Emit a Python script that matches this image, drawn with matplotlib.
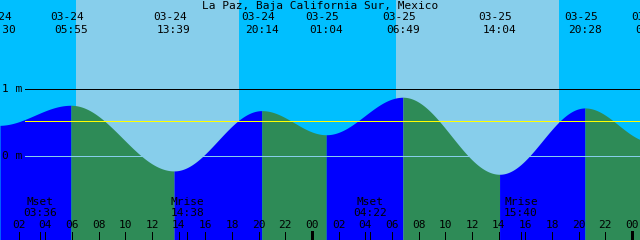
import numpy as np
import matplotlib
matplotlib.use("Agg")
import matplotlib.pyplot as plt

# tide extremes, hours after 03-24 00:00, heights in metres
tide_hours = [0.5, 5.917, 13.65, 20.233, 25.067, 30.817, 38.067, 44.467, 49.5]
tide_m = [0.45, 0.75, -0.23, 0.67, 0.31, 0.87, -0.28, 0.71, 0.20]
tide_dates = ["03-24", "03-24", "03-24", "03-24", "03-25", "03-25", "03-25", "03-25", "03-26"]
tide_times = ["00:30", "05:55", "13:39", "20:14", "01:04", "06:49", "14:04", "20:28", "01:30"]

# sun / moon
sunrise = [6.3, 30.3]
sunset = [18.52, 42.52]
moon_hours = [3.6, 14.633, 28.367, 39.667]
moon_names = ["Mset", "Mrise", "Mset", "Mrise"]
moon_times = ["03:36", "14:38", "04:22", "15:40"]

mean_level = 0.52
hour_ticks = list(range(2, 49, 2))

NIGHT, DAY = "#00BFFF", "#87CEEB"
RISE, FALL = "#0000FF", "#2E8B57"
FONT = "DejaVu Sans Mono"
FS = 8
PX = 0.72  # one pixel in points at 100 dpi

X0, X1 = 0.6, 48.6
Y0, Y1 = -1.261, 2.321

def level(t):
    # cosine shape between consecutive extremes
    t = np.asarray(t, float)
    out = np.empty_like(t)
    for i in range(len(tide_hours) - 1):
        a, b = tide_hours[i], tide_hours[i + 1]
        m = (t >= a) & (t <= b)
        f = (t[m] - a) / (b - a)
        out[m] = tide_m[i] + (tide_m[i + 1] - tide_m[i]) * (1 - np.cos(np.pi * f)) / 2
    return out

fig = plt.figure(figsize=(6.4, 2.4), dpi=100)
ax = fig.add_axes([0, 0, 1, 1])
ax.set_xlim(X0, X1)
ax.set_ylim(Y0, Y1)
ax.axis("off")

# sky: night / day
edges = [X0] + sorted(sunrise + sunset) + [X1]
for i in range(len(edges) - 1):
    ax.axvspan(edges[i], edges[i + 1], color=NIGHT if i % 2 == 0 else DAY,
               lw=0, antialiased=False, zorder=0)

# water: blue while rising, green while falling
for i in range(len(tide_hours) - 1):
    a, b = max(tide_hours[i], X0), min(tide_hours[i + 1], X1)
    if b <= a:
        continue
    t = np.linspace(a, b, 400)
    col = RISE if tide_m[i + 1] > tide_m[i] else FALL
    ax.fill_between(t, Y0, level(t), color=col, lw=0, antialiased=False, zorder=1)

# reference lines
xs = 25 / 640
ax.axhline(1, xmin=xs, color="black", lw=PX, antialiased=False, zorder=3)
ax.axhline(mean_level, xmin=xs, color="yellow", lw=PX, antialiased=False, zorder=3)
ax.axhline(0, xmin=xs, color=DAY, lw=PX, antialiased=False, zorder=2)
ax.text(2 / 640, 1, "1 m", transform=ax.get_yaxis_transform(), ha="left", va="center",
        family=FONT, fontsize=FS, zorder=4)
ax.text(2 / 640, 0, "0 m", transform=ax.get_yaxis_transform(), ha="left", va="center",
        family=FONT, fontsize=FS, zorder=4)

tr = ax.get_xaxis_transform()
ax.text(0.5, 1 - 6 / 240, "La Paz, Baja California Sur, Mexico", transform=ax.transAxes,
        ha="center", va="center", family=FONT, fontsize=FS)
for h, d, s in zip(tide_hours, tide_dates, tide_times):
    ax.text(h - 0.3, 1 - 17 / 240, d, transform=tr, ha="center", va="center",
            family=FONT, fontsize=FS, clip_on=False)
    ax.text(h, 1 - 30 / 240, s, transform=tr, ha="center", va="center",
            family=FONT, fontsize=FS, clip_on=False)

for h, n, s in zip(moon_hours, moon_names, moon_times):
    ax.text(h, 1 - 202 / 240, n, transform=tr, ha="center", va="center", family=FONT, fontsize=FS)
    ax.text(h, 1 - 213.5 / 240, s, transform=tr, ha="center", va="center", family=FONT, fontsize=FS)
    ax.plot([h, h], [0, 8 / 240], transform=tr, color="black", lw=PX, antialiased=False, zorder=4)

for h in hour_ticks:
    ax.text(h, 1 - 225 / 240, "%02d" % (h % 24), transform=tr, ha="center", va="center",
            family=FONT, fontsize=FS)
    ax.plot([h, h], [0, 8 / 240], transform=tr, color="black",
            lw=3 * PX if h % 24 == 0 else PX, antialiased=False, zorder=4)

fig.savefig("out.png", dpi=100)
